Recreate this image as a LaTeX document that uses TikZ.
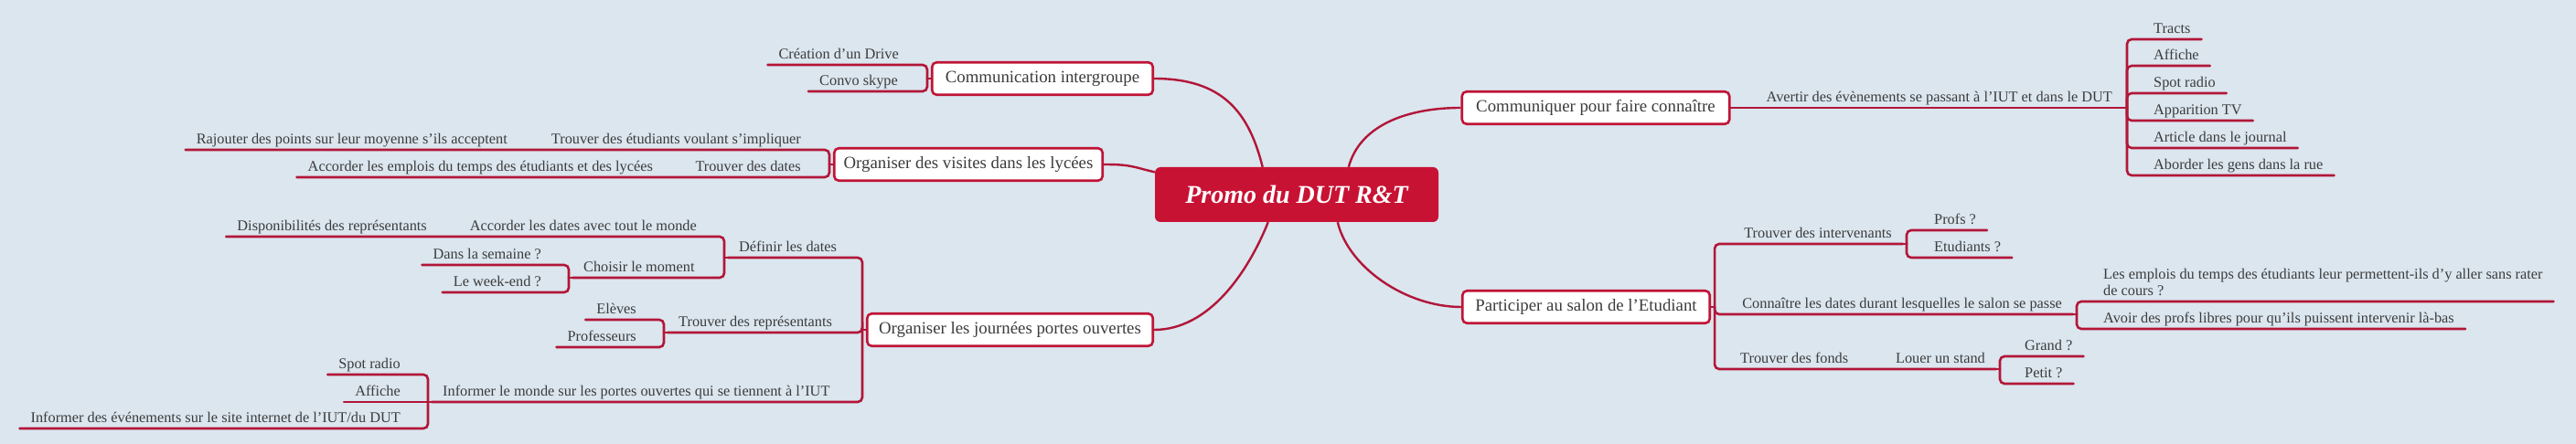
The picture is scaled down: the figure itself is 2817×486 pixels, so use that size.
\documentclass[tikz,border=0pt]{standalone}
\usepackage{fontspec}
\setmainfont{Liberation Serif}
\usepackage{tikz}
\definecolor{bgblue}{RGB}{219,230,239}
\definecolor{linered}{RGB}{178,22,56}
\definecolor{boxred}{RGB}{192,20,54}
\definecolor{centrered}{RGB}{200,18,52}
\definecolor{textgrey}{RGB}{60,60,60}
\tikzset{
  leaf/.style={font=\fontsize{16.3}{18}\selectfont, text=textgrey, inner xsep=12pt, inner ysep=2pt, text depth=4pt},
  topic/.style={draw=boxred, line width=2.6pt, fill=white, rounded corners=5pt, font=\fontsize{18.8}{22}\selectfont, text=textgrey, minimum height=35.5pt, inner xsep=4pt},
  branch/.style={draw=linered, line width=2.6pt, line cap=round},
  twig/.style={branch, rounded corners=5pt},
  curve/.style={draw=linered, line width=2.4pt},
}

\begin{document}
\begin{tikzpicture}[x=1pt, y=-1pt]
      \fill[bgblue] (0,0) rectangle (2817,486);
      \useasboundingbox (0,0) rectangle (2817,486);
      \node[fill=centrered, rounded corners=6pt, minimum width=310pt, minimum height=60pt, text=white, font=\fontsize{28}{32}\selectfont\bfseries\itshape] (promo) at (1418,213) {Promo du DUT R\&T};
      \node[topic, minimum width=241.5pt] (comm) at (1140,86) {Communication intergroupe};
      \node[topic, minimum width=293.5pt] (visites) at (1059,180) {Organiser des visites dans les lycées};
      \node[topic, minimum width=312.5pt] (journees) at (1104.5,361) {Organiser les journées portes ouvertes};
      \node[topic, minimum width=292.5pt] (communiquer) at (1745,118) {Communiquer pour faire connaître};
      \node[topic, minimum width=270.5pt] (participer) at (1734.5,336) {Participer au salon de l'Etudiant};
      \node[leaf, anchor=south east] (drive) at (995,71) {Création d'un Drive};
      \node[leaf, anchor=south east] (skype) at (994,100) {Convo skype};
      \node[leaf, anchor=south east] (impliquer) at (888,164) {Trouver des étudiants voulant s'impliquer};
      \node[leaf, anchor=south east] (rajouter) at (567,164) {Rajouter des points sur leur moyenne s'ils acceptent};
      \node[leaf, anchor=south east] (tdates) at (888,194) {Trouver des dates};
      \node[leaf, anchor=south east] (emplois) at (726,194) {Accorder les emplois du temps des étudiants et des lycées};
      \node[leaf, anchor=south west] (definir) at (796,282) {Définir les dates};
      \node[leaf, anchor=south east] (accdates) at (774,259) {Accorder les dates avec tout le monde};
      \node[leaf, anchor=south east] (dispo) at (479,259) {Disponibilités des représentants};
      \node[leaf, anchor=south west] (choisir) at (626,304) {Choisir le moment};
      \node[leaf, anchor=south east] (semaine) at (604,290) {Dans la semaine ?};
      \node[leaf, anchor=south east] (weekend) at (604,320) {Le week-end ?};
      \node[leaf, anchor=south west] (repr) at (730,364) {Trouver des représentants};
      \node[leaf, anchor=south east] (eleves) at (708,350) {Elèves};
      \node[leaf, anchor=south east] (profs) at (708,380) {Professeurs};
      \node[leaf, anchor=south west] (informer) at (472,440) {Informer le monde sur les portes ouvertes qui se tiennent à l'IUT};
      \node[leaf, anchor=south east] (spot) at (450,410) {Spot radio};
      \node[leaf, anchor=south east] (affiche) at (450,440) {Affiche};
      \node[leaf, anchor=south east] (site) at (450,469) {Informer des événements sur le site internet de l'IUT/du DUT};
      \node[leaf, anchor=south east] (avertir) at (2322,118) {Avertir des évènements se passant à l'IUT et dans le DUT};
      \node[leaf, anchor=south west] (tracts) at (2343,43) {Tracts};
      \node[leaf, anchor=south west] (affiche2) at (2343,72) {Affiche};
      \node[leaf, anchor=south west] (spot2) at (2343,102) {Spot radio};
      \node[leaf, anchor=south west] (tv) at (2343,132) {Apparition TV};
      \node[leaf, anchor=south west] (article) at (2343,162) {Article dans le journal};
      \node[leaf, anchor=south west] (aborder) at (2343,192) {Aborder les gens dans la rue};
      \node[leaf, anchor=south east] (intervenants) at (2081,267) {Trouver des intervenants};
      \node[leaf, anchor=south west] (profsq) at (2103,252) {Profs ?};
      \node[leaf, anchor=south west] (etudiants) at (2103,282) {Etudiants ?};
      \node[leaf, anchor=south east] (connaitre) at (2267,344) {Connaître les dates durant lesquelles le salon se passe};
      \node[leaf, anchor=south west, align=left] (lesemplois) at (2288,330) {Les emplois du temps des étudiants leur permettent-ils d'y aller sans rater\\de cours ?};
      \node[leaf, anchor=south west] (avoir) at (2288,360) {Avoir des profs libres pour qu'ils puissent intervenir là-bas};
      \node[leaf, anchor=south west] (fonds) at (1891,404) {Trouver des fonds};
      \node[leaf, anchor=south east] (louer) at (2183,404) {Louer un stand};
      \node[leaf, anchor=south west] (grand) at (2202,390) {Grand ?};
      \node[leaf, anchor=south west] (petit) at (2202,420) {Petit ?};
      \draw[curve] (comm.east) .. controls +(75,0) and +(-15,-60) .. (promo.141);
      \draw[curve] (visites.east) .. controls +(30,0) and +(-25,-6) .. (promo.171);
      \draw[curve] (journees.east) .. controls +(60,0) and +(-22,55) .. (promo.224);
      \draw[curve] (communiquer.west) .. controls +(-60,0) and +(12,-45) .. (promo.28);
      \draw[curve] (participer.west) .. controls +(-60,0) and +(12,50) .. (promo.326);
      \draw[branch] (comm.west) -- ++(-4,0);
      \draw[twig] ([xshift=-4pt]comm.west) |- (drive.south west);
      \draw[twig] ([xshift=-4pt]comm.west) |- (skype.south west);
      \draw[branch] (visites.west) -- ++(-4,0);
      \draw[twig] ([xshift=-4pt]visites.west) |- (impliquer.south west) -- (rajouter.south west);
      \draw[twig] ([xshift=-4pt]visites.west) |- (tdates.south west) -- (emplois.south west);
      \draw[branch] (journees.west) -- ++(-4,0);
      \draw[twig] ([xshift=-4pt]journees.west) |- (definir.south west);
      \draw[twig] ([xshift=-4pt]journees.west) |- (repr.south west);
      \draw[twig] ([xshift=-4pt]journees.west) |- (informer.south west);
      \draw[branch] (definir.south west) -- ++(-4,0);
      \draw[twig] ([xshift=-4pt]definir.south west) |- (accdates.south west) -- (dispo.south west);
      \draw[twig] ([xshift=-4pt]definir.south west) |- (choisir.south west);
      \draw[branch] (choisir.south west) -- ++(-4,0);
      \draw[twig] ([xshift=-4pt]choisir.south west) |- (semaine.south west);
      \draw[twig] ([xshift=-4pt]choisir.south west) |- (weekend.south west);
      \draw[branch] (repr.south west) -- ++(-4,0);
      \draw[twig] ([xshift=-4pt]repr.south west) |- (eleves.south west);
      \draw[twig] ([xshift=-4pt]repr.south west) |- (profs.south west);
      \draw[branch] (informer.south west) -- (affiche.south west);
      \draw[twig] ([xshift=-4pt]informer.south west) |- (spot.south west);
      \draw[twig] ([xshift=-4pt]informer.south west) |- (site.south west);
      \draw[branch] (communiquer.east) -- (avertir.south east) -- ++(4,0);
      \draw[twig] ([xshift=4pt]avertir.south east) |- (tracts.south east);
      \draw[twig] ([xshift=4pt]avertir.south east) |- (affiche2.south east);
      \draw[twig] ([xshift=4pt]avertir.south east) |- (spot2.south east);
      \draw[twig] ([xshift=4pt]avertir.south east) |- (tv.south east);
      \draw[twig] ([xshift=4pt]avertir.south east) |- (article.south east);
      \draw[twig] ([xshift=4pt]avertir.south east) |- (aborder.south east);
      \draw[branch] (participer.east) -- ++(4,0);
      \draw[twig] ([xshift=4pt]participer.east) |- (intervenants.south east);
      \draw[twig] ([xshift=4pt]participer.east) |- (connaitre.south east);
      \draw[twig] ([xshift=4pt]participer.east) |- (fonds.south east) -- (louer.south east);
      \draw[branch] (intervenants.south east) -- ++(4,0);
      \draw[twig] ([xshift=4pt]intervenants.south east) |- (profsq.south east);
      \draw[twig] ([xshift=4pt]intervenants.south east) |- (etudiants.south east);
      \draw[branch] (connaitre.south east) -- ++(4,0);
      \draw[twig] ([xshift=4pt]connaitre.south east) |- (lesemplois.south east);
      \draw[twig] ([xshift=4pt]connaitre.south east) |- (avoir.south east);
      \draw[branch] (louer.south east) -- ++(4,0);
      \draw[twig] ([xshift=4pt]louer.south east) |- (grand.south east);
      \draw[twig] ([xshift=4pt]louer.south east) |- (petit.south east);
    \end{tikzpicture}
\end{document}
